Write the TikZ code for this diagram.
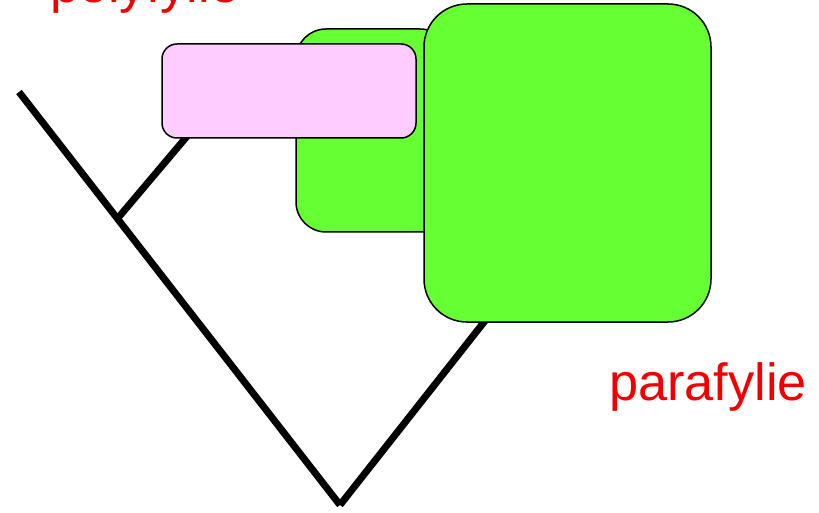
\documentclass[tikz,border=0pt]{standalone}
\usepackage{fontspec}
\setmainfont{Liberation Sans}
\definecolor{cladegreen}{HTML}{66FF33}
\definecolor{cladepink}{HTML}{FFCCFF}
\definecolor{labelred}{HTML}{F20000}
\begin{document}
\begin{tikzpicture}[x=1bp,y=-1bp,
  branch/.style={line width=7bp,black},
  cladebox/.style={draw=black,line width=1.5bp},
  lbl/.style={text=labelred,font=\fontsize{52.5}{60}\selectfont,inner sep=0pt,anchor=base west}]
\useasboundingbox (0,0) rectangle (819,513);
% tree
\coordinate (top) at (19,92);
\coordinate (root) at (340,505);
\coordinate (fork) at (118,218);
\coordinate (pinktip) at (205,115);
\coordinate (greentip) at (525,270);
\draw[branch] (top) -- (root);
\draw[branch] (fork) -- (pinktip);
\draw[branch] (root) -- (greentip);
% boxes
\draw[cladebox,fill=cladegreen,rounded corners=30bp] (296,29) rectangle (450,232);
\node[cladebox,fill=cladepink,rounded corners=15bp,minimum width=254bp,minimum height=94bp,inner sep=0pt] (pink) at (289,91) {};
\node[cladebox,fill=cladegreen,rounded corners=43bp,minimum width=287bp,minimum height=318bp,inner sep=0pt] (biggreen) at (567.5,163) {};
% labels
\node[lbl] (poly) at (50,3) {polyfylie};
\node[lbl] (para) at (609,400) {parafylie};
\end{tikzpicture}
\end{document}
